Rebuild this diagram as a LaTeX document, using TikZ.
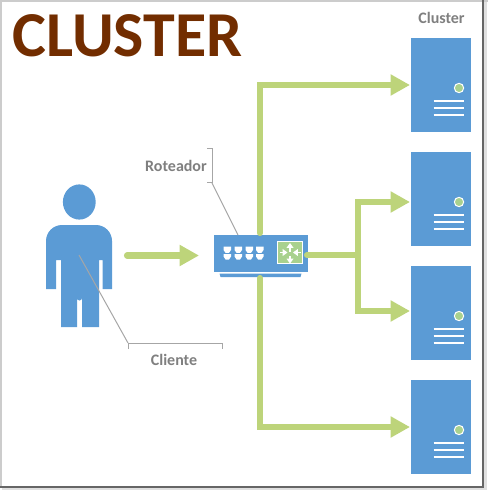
\documentclass[tikz,border=0pt]{standalone}
\usepackage{fontspec}
\setmainfont{Carlito}
\usetikzlibrary{arrows.meta,positioning}
\tikzset{
  server/.style={draw=none,fill=cblue,minimum width=45pt,minimum height=70.5pt,inner sep=0pt,shape=rectangle},
  led/.style={circle,draw=white,line width=0.75pt,fill=cgreen,minimum size=7pt,inner sep=0pt},
  slot/.style={white,line width=1.2pt},
  port/.style={fill=white,draw=none},
  link/.style={cline,line width=4.6pt,line cap=round,line join=miter},
  linkarrow/.style={link,-{Triangle[length=14.5pt,width=15pt]}},
  leader/.style={cgray,line width=0.75pt},
  caption/.style={text=ctext,font=\bfseries\fontsize{12}{14}\selectfont,inner sep=0pt},
  flow/.style={white,line width=1.1pt,-{Triangle[length=3.6pt,width=5pt]}}
}
\begin{document}
\begin{tikzpicture}[x=0.75pt,y=-0.75pt]
%
\useasboundingbox (0,0) rectangle (488,491);
%
\definecolor{cblue}{HTML}{5B9BD5}
\definecolor{cgreen}{HTML}{A9D18E}
\definecolor{cline}{HTML}{BDD47A}
\definecolor{cgray}{HTML}{A6A6A6}
\definecolor{ctext}{HTML}{7F7F7F}
\definecolor{ctitle}{HTML}{722D00}
%
% frame of the screenshot
\fill[black!20] (0,0) rectangle (488,2);
\fill[black!20] (0,0) rectangle (2,488);
\fill[black!12] (482,2) rectangle (487,489);
\fill[black!12] (2,486) rectangle (487,490);
\fill[black!60] (482,0) rectangle (484,487);
\fill[black!60] (0,486) rectangle (484,488);
%
\node[text=ctitle,font=\bfseries\fontsize{48}{52}\selectfont,inner sep=0pt] (title) at (127.5,36) {CLUSTER};
\node[caption] (lblcluster) at (441.5,18) {Cluster};
\node[caption] (lblrouter) at (176,166) {Roteador};
\node[caption] (lblclient) at (174,360) {Cliente};
%
% person
\fill[cblue] (79.3,202) ellipse [x radius=16.4,y radius=17.6];
\fill[cblue] (46,289) -- (46,241) arc (180:270:16) -- (96,225) arc (-90:0:16) -- (112,289) -- (102.7,289)
  -- (102.7,260) -- (99,260) -- (99,327) -- (82,327) -- (82,298) arc (0:180:2.5) -- (77,327) -- (61,327)
  -- (61,260) -- (56,260) -- (56,289) -- cycle;
\coordinate (clientpt) at (79,255);
\coordinate (clientbr) at (128,343);
\coordinate (clientbl) at (128,349);
\coordinate (clientbe) at (222,343);
\coordinate (clientbf) at (222,349);
\draw[leader] (clientpt) -- (clientbr);
\draw[leader] (clientbl) -- (clientbr) -- (clientbe) -- (clientbf);
%
% router
\node[draw=none,fill=cblue,minimum width=70.5pt,minimum height=27.75pt,inner sep=0pt] (rtr) at (261,253.5) {};
\fill[cblue] (219.5,273.5) -- (301.5,273.5) -- (300.5,277) -- (220.5,277) -- cycle;
\node[draw=white,line width=0.75pt,fill=cgreen,minimum width=18.5pt,minimum height=17pt,inner sep=0pt] (rtrbox) at (290,252.5) {};
%
\foreach \px in {223.5,234.5,245.5,256}{
  \fill[port] (\px,246.7) -- (\px+7.5,246.7) -- (\px+7.5,250) -- (\px+5.5,252.8) -- (\px+2,252.8) -- (\px,250) -- cycle;
  \fill[port] (\px,254) -- (\px+7.5,254) -- (\px+7.5,256.5) -- (\px+5.5,259.5) -- (\px+2,259.5) -- (\px,256.5) -- cycle;
}
%
\draw[flow] (290,252) -- (290,243);
\draw[flow] (290,256) -- (290,263.5);
\draw[flow] (280,252.5) -- (287.5,252.5);
\draw[flow] (301,252.5) -- (293,252.5);
%
\coordinate (rtrbr) at (212,183);
\coordinate (rtrbt) at (212,149);
\coordinate (rtrbu) at (207,149);
\coordinate (rtrbd) at (207,183);
\coordinate (rtrpt) at (238,235);
\draw[leader] (rtrbr) -- (rtrpt);
\draw[leader] (rtrbu) -- (rtrbt) -- (rtrbr) -- (rtrbd);
%
% servers
\node[server] (srv1) at (441,85) {};
\node[server] (srv2) at (441,199) {};
\node[server] (srv3) at (441,313) {};
\node[server] (srv4) at (441,427) {};
%
\node[led] (led1) at (459,88) {};
\node[led] (led2) at (459,202) {};
\node[led] (led3) at (459,316) {};
\node[led] (led4) at (459,430) {};
%
\foreach \sy in {0,114,228,342}{
  \draw[slot] (433.5,101+\sy) -- (463.5,101+\sy);
  \draw[slot] (433.5,108+\sy) -- (463.5,108+\sy);
  \draw[slot] (433.5,115+\sy) -- (463.5,115+\sy);
}
%
% links
\coordinate (clientout) at (127,255.5);
\coordinate (rtrin) at (199,255.5);
\coordinate (rtrtop) at (260,233);
\coordinate (rtrbot) at (260,278);
\coordinate (rtrout) at (307,255);
\coordinate (branch) at (358,255);
\coordinate (tip1) at (410,85);
\coordinate (tip2) at (410,202);
\coordinate (tip3) at (410,311);
\coordinate (tip4) at (410,427);
%
\draw[linkarrow] (clientout) -- (rtrin);
\draw[linkarrow] (rtrtop) |- (tip1);
\draw[linkarrow] (rtrbot) |- (tip4);
\draw[link] (rtrout) -- (branch);
\draw[linkarrow] (branch) |- (tip2);
\draw[linkarrow] (branch) |- (tip3);
%
\end{tikzpicture}
\end{document}
